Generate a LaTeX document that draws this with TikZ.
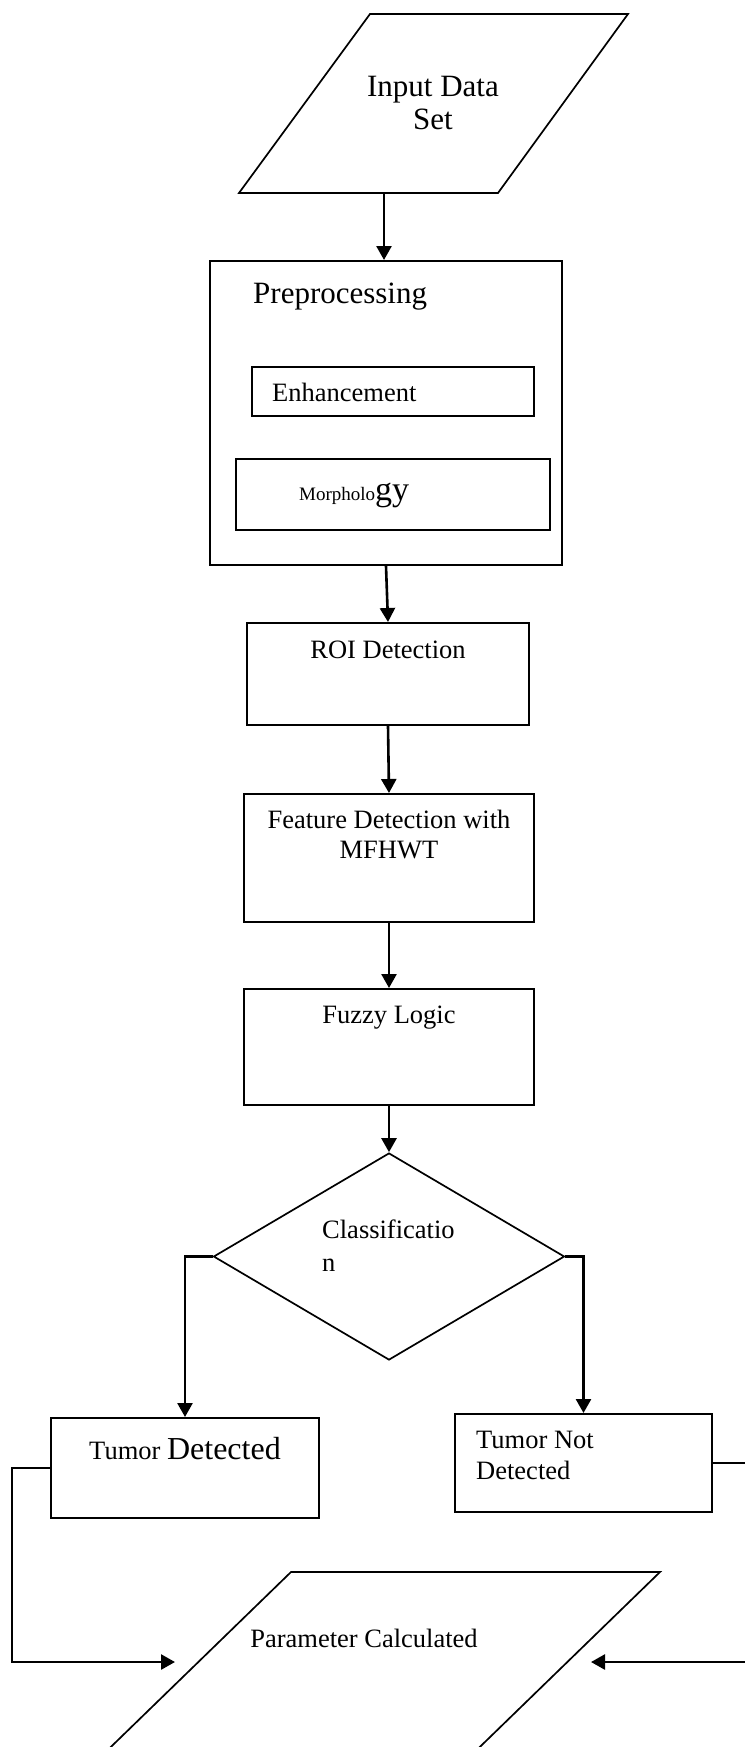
\documentclass[tikz,border=0pt]{standalone}
\usepackage{fontspec}
\setmainfont{Liberation Serif}
\usetikzlibrary{arrows.meta,shapes.geometric}

\begin{document}
\begin{tikzpicture}[x=1pt, y=-1pt,
		box/.style = {draw, line width=2pt, inner sep=0pt},
		txt/.style = {inner sep=0pt, font=\fontsize{26.5}{31}\selectfont},
		arr/.style = {line width=2.6pt, -{Triangle[length=14pt,width=15pt]}}]
		    \useasboundingbox (0,0) rectangle (744,1747);

		    \draw[line width=1.7pt] (370,14) -- (628,14) -- (498,193) -- (239,193) -- cycle;
		    \coordinate (inbot) at (384,193);
		    \node[txt, align=center, font=\fontsize{31}{33}\selectfont] (intxt) at (433,103) {Input Data\\Set};

		    \node[box, minimum width=352pt, minimum height=304pt] (pre) at (386,413) {};
		    \node[txt, anchor=base west, font=\fontsize{31}{33}\selectfont] (pretxt) at (253,303) {Preprocessing};
		    \node[box, minimum width=282pt, minimum height=49pt] (enh) at (393,391.5) {};
		    \node[txt, anchor=base west] (enhtxt) at (272,401) {Enhancement};
		    \node[box, minimum width=314pt, minimum height=71pt] (mor) at (393,494.5) {};
		    \node[txt, anchor=base west] (mortxt) at (299,500) {{\fontsize{19}{22}\selectfont Morpholo}{\fontsize{34}{38}\selectfont gy}};

		    \node[box, minimum width=282pt, minimum height=102pt] (roi) at (388,674) {};
		    \node[txt, anchor=base] (roitxt) at (388,658) {ROI Detection};

		    \node[box, minimum width=290pt, minimum height=128pt] (feat) at (389,858) {};
		    \node[txt, align=center, font=\fontsize{26.5}{30}\selectfont] (feattxt) at (389,834) {Feature Detection with\\MFHWT};

		    \node[box, minimum width=290pt, minimum height=116pt] (fuzzy) at (389,1047) {};
		    \node[txt, anchor=base] (fuzzytxt) at (389,1023) {Fuzzy Logic};

		    \node[draw, diamond, line width=1.7pt, inner sep=0pt, minimum width=351pt, minimum height=207pt] (cls) at (389,1256.5) {};
		    \node[txt, anchor=west, align=left, font=\fontsize{26.5}{33}\selectfont] (clstxt) at (322,1245.5) {Classificatio\\n};

		    \node[box, minimum width=268pt, minimum height=100pt] (tumor) at (185,1468) {};
		    \node[txt, anchor=base] (tumortxt) at (185,1459) {Tumor {\fontsize{32}{36}\selectfont Detected}};
		    \node[box, minimum width=257pt, minimum height=98pt] (notumor) at (583.5,1463) {};
		    \node[txt, anchor=west, align=left] (notumortxt) at (476,1455.5) {Tumor Not\\Detected};

		    \draw[line width=1.7pt] (291,1572) -- (660,1572) -- (435.5,1790) -- (66.5,1790) -- cycle;
		    \node[txt, anchor=base] (paramtxt) at (364,1647) {Parameter Calculated};
		    \coordinate (pcl) at (175,1662);
		    \coordinate (pcr) at (591,1662);

		    \draw[arr] (inbot) -- (inbot |- pre.north);
		    \draw[arr] (pre.south) -- (roi.north);
		    \draw[arr] (roi.south) -- (feat.north);
		    \draw[arr] (feat.south) -- (fuzzy.north);
		    \draw[arr] (fuzzy.south) -- (cls.north);
		    \draw[arr] (cls.west) -| (tumor.north);
		    \draw[arr] (cls.east) -| (notumor.north);
		    \draw[arr] (tumor.west) -- ++(-38pt,0) |- (pcl);
		    \draw[arr] (notumor.east) -- ++(40pt,0) |- (pcr);
		\end{tikzpicture}
\end{document}
